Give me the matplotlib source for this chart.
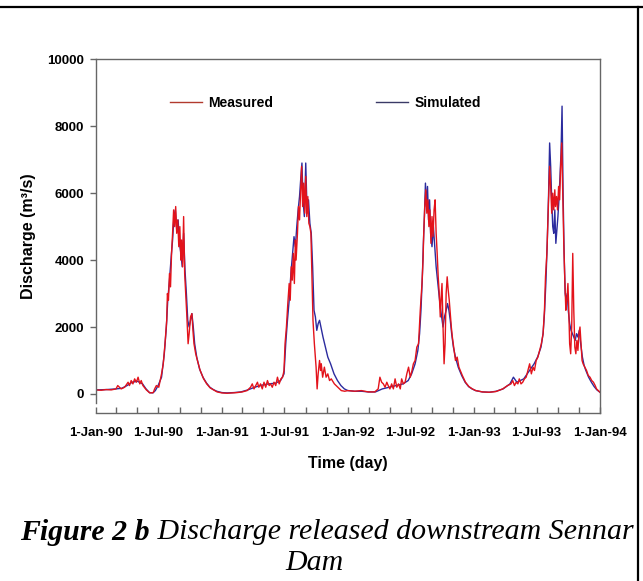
import numpy as np
import matplotlib.pyplot as plt
import matplotlib.dates as mdates
from matplotlib.lines import Line2D

###########################################################
# data (days counted from 1-Jan-1990)

start = np.datetime64('1990-01-01')

meas_day = [0, 15, 29, 44, 58, 63, 73, 83, 93, 97, 102, 107, 112, 117, 122, 127, 131, 136, 146, 156,
            166, 170, 175, 182, 190, 195, 200, 205, 207, 210, 213, 216, 219, 222, 225, 228, 231, 234, 237, 240,
            243, 246, 248, 251, 254, 257, 260, 263, 267, 270, 274, 278, 281, 284, 289, 294, 302, 312, 321, 331,
            341, 351, 365, 380, 394, 409, 424, 438, 448, 453, 458, 463, 468, 472, 477, 482, 487, 492, 497, 502,
            506, 511, 516, 521, 526, 531, 536, 541, 545, 548, 552, 556, 560, 563, 566, 569, 572, 575, 578, 580,
            584, 587, 590, 593, 596, 599, 602, 605, 608, 611, 614, 617, 620, 623, 626, 629, 633, 638, 641, 644,
            648, 651, 653, 657, 662, 667, 672, 677, 682, 691, 701, 711, 721, 730, 750, 769, 789, 808, 818, 823,
            828, 833, 838, 843, 847, 852, 857, 862, 867, 872, 877, 882, 886, 891, 896, 901, 906, 911, 916, 920,
            925, 930, 935, 940, 945, 948, 950, 953, 956, 959, 962, 965, 968, 971, 974, 977, 980, 983, 986, 989,
            992, 995, 998, 1000, 1003, 1006, 1009, 1012, 1015, 1018, 1021, 1024, 1027, 1030, 1033, 1038, 1042, 1047, 1052, 1062,
            1071, 1081, 1091, 1101, 1120, 1140, 1159, 1179, 1193, 1203, 1208, 1213, 1218, 1223, 1227, 1232, 1237, 1242, 1247, 1252,
            1257, 1262, 1267, 1271, 1276, 1281, 1286, 1291, 1296, 1300, 1303, 1307, 1311, 1315, 1318, 1321, 1324, 1327, 1330, 1332,
            1335, 1338, 1341, 1344, 1347, 1350, 1353, 1356, 1359, 1362, 1365, 1368, 1370, 1373, 1376, 1379, 1382, 1385, 1388, 1391,
            1394, 1397, 1400, 1403, 1406, 1409, 1412, 1417, 1422, 1427, 1432, 1437, 1442, 1447, 1451, 1456, 1461]
meas_q = [120, 110, 130, 120, 150, 250, 150, 200, 350, 250, 400, 300, 450, 350, 500, 300, 400, 250, 120, 30,
          40, 150, 250, 200, 600, 900, 1500, 2200, 3000, 2800, 3600, 3200, 4200, 4800, 5500, 5000, 5600, 4800, 5200, 4400,
          5000, 4000, 4600, 3800, 5300, 3600, 3000, 2400, 1500, 1800, 2300, 2400, 1900, 1500, 1200, 1000, 700, 450, 300, 180,
          120, 60, 30, 20, 30, 40, 60, 100, 200, 300, 150, 250, 350, 200, 300, 150, 350, 200, 400, 250,
          300, 200, 350, 250, 500, 300, 450, 500, 700, 1500, 2000, 2700, 3300, 2800, 3800, 3400, 4200, 3300, 4600, 4000,
          4800, 5600, 5200, 6000, 6800, 5600, 6300, 5400, 6500, 5300, 5900, 5100, 5000, 4800, 3500, 2200, 1500, 800, 150, 600,
          1000, 700, 900, 500, 800, 500, 600, 400, 450, 300, 200, 100, 80, 100, 80, 100, 60, 60, 150, 500,
          350, 300, 200, 350, 250, 150, 300, 150, 450, 200, 300, 150, 450, 300, 350, 600, 800, 500, 700, 900,
          1000, 1400, 1500, 2500, 3300, 4000, 4800, 5600, 6100, 5400, 5800, 5000, 5500, 4500, 5300, 4700, 5500, 5800, 4800, 4200,
          3500, 3000, 2300, 2800, 3300, 2000, 900, 1500, 3000, 3500, 3100, 2800, 2400, 2000, 1700, 1300, 1000, 1100, 800, 550,
          350, 220, 150, 100, 60, 50, 70, 150, 250, 300, 400, 250, 350, 300, 450, 300, 350, 450, 500, 700,
          900, 600, 800, 700, 1000, 1100, 1300, 1500, 1800, 2500, 3500, 4200, 5500, 6800, 6200, 5400, 6000, 5500, 6100, 5600,
          5900, 5500, 6200, 5800, 6800, 7500, 6000, 4500, 3400, 2500, 2800, 3300, 2700, 1500, 1200, 2000, 4200, 2500, 1400, 1200,
          1600, 1300, 1800, 2000, 1500, 1000, 900, 800, 700, 550, 500, 400, 350, 250, 150, 100, 50]

sim_day = [0, 30, 58, 75, 90, 105, 120, 135, 145, 155, 165, 172, 180, 190, 198, 204, 208, 213, 218, 222,
           226, 230, 234, 238, 242, 246, 250, 254, 258, 262, 266, 270, 274, 278, 282, 286, 292, 300, 310, 320,
           330, 340, 350, 365, 380, 400, 420, 440, 460, 480, 500, 520, 535, 545, 550, 555, 560, 565, 570, 574,
           578, 582, 586, 590, 594, 597, 600, 604, 608, 612, 616, 620, 624, 628, 632, 636, 640, 644, 648, 652,
           658, 665, 672, 680, 690, 700, 710, 720, 730, 750, 770, 790, 810, 830, 850, 870, 890, 905, 915, 925,
           933, 938, 942, 946, 949, 952, 955, 958, 961, 964, 967, 970, 974, 978, 982, 986, 990, 994, 998, 1002,
           1006, 1010, 1015, 1019, 1023, 1027, 1031, 1036, 1042, 1050, 1060, 1070, 1080, 1090, 1100, 1120, 1140, 1160, 1180, 1200,
           1210, 1220, 1230, 1240, 1250, 1260, 1270, 1280, 1290, 1296, 1300, 1304, 1308, 1312, 1315, 1318, 1321, 1324, 1327, 1330,
           1333, 1336, 1339, 1342, 1345, 1348, 1351, 1354, 1357, 1360, 1363, 1366, 1369, 1373, 1377, 1381, 1385, 1389, 1393, 1397,
           1401, 1405, 1410, 1415, 1420, 1428, 1436, 1444, 1452, 1461]
sim_q = [120, 130, 150, 170, 250, 350, 380, 300, 150, 40, 30, 100, 250, 500, 1200, 2000, 2800, 3400, 4100, 4600,
         5300, 5500, 4900, 5200, 4500, 4200, 3800, 4800, 3700, 3000, 2200, 2000, 2200, 2400, 2000, 1500, 1100, 750, 500, 330,
         200, 130, 80, 40, 30, 40, 60, 120, 200, 260, 300, 320, 400, 600, 1500, 2200, 2800, 3600, 4200, 4700,
         4400, 5000, 5500, 5900, 6500, 6900, 5800, 5300, 6900, 5400, 5800, 5100, 4800, 3800, 2500, 2300, 1900, 2100, 2200, 2000,
         1700, 1400, 1100, 900, 600, 400, 250, 150, 100, 80, 80, 60, 60, 150, 200, 250, 300, 400, 600, 900,
         1300, 1800, 2500, 3500, 4500, 5300, 6300, 5600, 6200, 5200, 5800, 4800, 4400, 5000, 4400, 3800, 3400, 3000, 2600, 2300,
         2000, 2300, 2500, 2700, 2500, 2200, 1800, 1400, 1100, 800, 550, 350, 220, 150, 100, 60, 50, 80, 150, 300,
         500, 350, 400, 450, 600, 750, 900, 1100, 1400, 1800, 2400, 3300, 4500, 6000, 7500, 6800, 5800, 5000, 4800, 5500,
         4500, 4900, 5300, 5800, 6500, 7200, 8600, 6000, 4200, 3000, 2800, 3000, 2500, 2100, 1900, 1800, 1700, 1600, 1800, 1700,
         1900, 1500, 1100, 850, 700, 500, 350, 220, 120, 50]

meas_t = start + np.array(meas_day).astype('timedelta64[D]')
sim_t = start + np.array(sim_day).astype('timedelta64[D]')

###########################################################
# plot

plt.rcParams['font.family'] = ['Liberation Sans', 'DejaVu Sans']
plt.rcParams['font.weight'] = 'bold'

fig = plt.figure(figsize=(6.43, 5.81), dpi=100)
ax = fig.add_axes([96/643, 1-413/581, 504/643, 353.7/581])

ax.plot(sim_t, sim_q, color='#2b2b9e', lw=1.0, label='Simulated')
ax.plot(meas_t, meas_q, color='#e3131b', lw=1.0, label='Measured')

ax.set_xlim(np.datetime64('1990-01-01'), np.datetime64('1994-01-01'))
ax.set_ylim(-570, 10000)
ax.set_yticks([0, 2000, 4000, 6000, 8000, 10000])

ax.xaxis.set_major_locator(mdates.MonthLocator(bymonth=[1, 7]))
ax.xaxis.set_minor_locator(mdates.MonthLocator(bymonth=[3, 5, 9, 11]))
ax.xaxis.set_major_formatter(plt.FuncFormatter(
    lambda v, p: '%d-%s' % (mdates.num2date(v).day, mdates.num2date(v).strftime('%b-%y'))))

for s in ax.spines.values():
    s.set_color('#666666')
    s.set_linewidth(1.0)
ax.spines['left'].set_bounds(-270, 10000)

ax.tick_params(axis='y', direction='out', length=4.5, width=1, color='#666666', labelsize=9.5, pad=4)
ax.tick_params(axis='x', which='both', direction='in', length=4, width=1, color='#666666', labelsize=9.5, pad=10)

ax.set_xlabel('Time (day)', fontsize=11.5, fontweight='bold', labelpad=12)
ax.set_ylabel('Discharge (m³/s)', fontsize=11.5, fontweight='bold', labelpad=8)

handles = [Line2D([], [], color='#b23a2e', lw=1.0), Line2D([], [], color='#3a3a66', lw=1.0)]
ax.legend(handles, ['Measured', 'Simulated'], ncol=2, frameon=False, fontsize=10,
          loc='center left', bbox_to_anchor=(170/643, 1-103/581), bbox_transform=fig.transFigure,
          borderaxespad=0, borderpad=0, handlelength=2.3, handletextpad=0.45, columnspacing=7.4)

# caption, bold italic + italic, in a serif face
t1 = fig.text(0, 1-532/581, 'Figure 2 b', family='Liberation Serif', style='italic',
              weight='bold', fontsize=21.5, va='center')
t2 = fig.text(0, 1-532/581, ' Discharge released downstream Sennar', family='Liberation Serif',
              style='italic', weight='normal', fontsize=21.5, va='center')
fig.text(314/643, 1-563/581, 'Dam', family='Liberation Serif', style='italic', weight='normal',
         fontsize=21.5, va='center', ha='center')
fig.canvas.draw()
r = fig.canvas.get_renderer()
w1 = t1.get_window_extent(r).width
w2 = t2.get_window_extent(r).width
x0 = 327 - (w1 + w2) / 2
t1.set_x(x0 / 643)
t2.set_x((x0 + w1) / 643)

# table border around the figure
fig.add_artist(Line2D([0, 1], [1-7/581, 1-7/581], color='black', lw=1.6, transform=fig.transFigure))
fig.add_artist(Line2D([638/643, 638/643], [0, 1-7/581], color='black', lw=1.6, transform=fig.transFigure))

plt.savefig('out.png', dpi=100)
